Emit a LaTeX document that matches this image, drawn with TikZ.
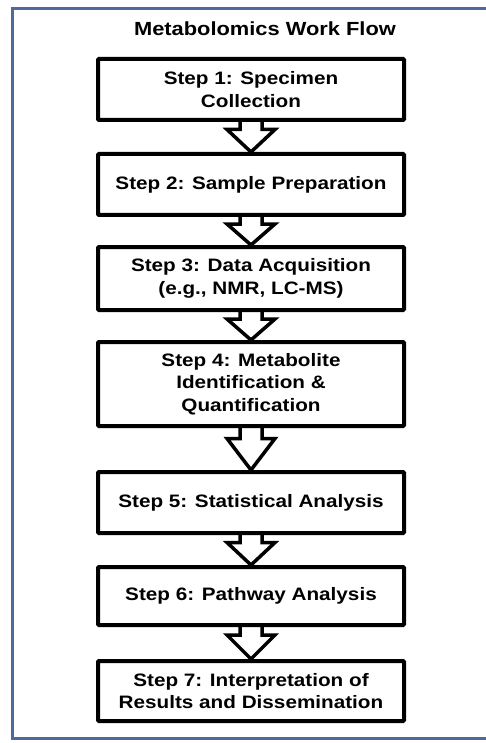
\documentclass[tikz,border=0pt]{standalone}
\usepackage{fontspec}
\setmainfont[FakeStretch=1.15]{Liberation Sans}
\usetikzlibrary{calc}

\begin{document}
\begin{tikzpicture}[x=1pt, y=-1pt,
  stepbox/.style={draw, line width=4pt, fill=white, align=center,
    minimum width=306pt, inner sep=2pt, rounded corners=1pt,
    font=\fontsize{18}{22.5}\selectfont\bfseries},
  blockarrow/.style={line width=3.5pt, line join=miter, to path={
    let \p1=(\tikztostart), \p2=(\tikztotarget), \n1={0.25*(\y1-\y2)} in
    (\x1-11pt,\y1+2pt) -- (\x1-11pt,\y1-\n1) -- (\x1-24pt,\y1-\n1)
    -- (\x2,\y2) -- (\x1+24pt,\y1-\n1) -- (\x1+11pt,\y1-\n1)
    -- (\x1+11pt,\y1+2pt)}},
  every edge/.style={draw, blockarrow}]
  \useasboundingbox (0,0) rectangle (485,743);
  % frame round the work flow
  \draw[line width=3pt, color={rgb,255:red,80;green,106;blue,158}]
    (495,9) -- (12,9) -- (12,738) -- (495,738);
  \node[font=\fontsize{19}{22}\selectfont\bfseries] (title) at (265,29)
    {Metabolomics Work Flow};
  \node[stepbox, minimum height=61pt] (collect) at (251,89.5)
    {Step 1: Specimen\\Collection};
  \node[stepbox, minimum height=61pt] (prep) at (251,184.5)
    {Step 2: Sample Preparation};
  \node[stepbox, minimum height=63pt] (acq) at (251,278.5)
    {Step 3: Data Acquisition\\(e.g., NMR, LC-MS)};
  \node[stepbox, minimum height=84pt] (ident) at (251,384)
    {Step 4: Metabolite\\Identification \&\\Quantification};
  \node[stepbox, minimum height=61pt] (stats) at (251,502.5)
    {Step 5: Statistical Analysis};
  \node[stepbox, minimum height=58pt] (path) at (251,596)
    {Step 6: Pathway Analysis};
  \node[stepbox, minimum height=60pt] (interp) at (251,691)
    {Step 7: Interpretation of\\Results and Dissemination};
  \draw (collect.south) edge (prep.north);
  \draw (prep.south) edge (acq.north);
  \draw (acq.south) edge (ident.north);
  \draw (ident.south) edge (stats.north);
  \draw (stats.south) edge (path.north);
  \draw (path.south) edge (interp.north);
\end{tikzpicture}
\end{document}
